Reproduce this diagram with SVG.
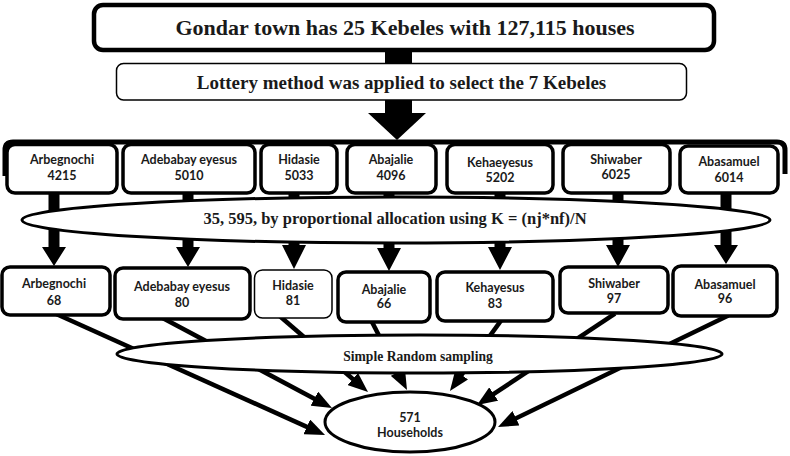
<svg xmlns="http://www.w3.org/2000/svg" width="790" height="456" viewBox="0 0 790 456">
<style>
.bx{fill:#fff;stroke:#000;stroke-width:3.5}
.thin{fill:#fff;stroke:#000;stroke-width:1.5}
.el{fill:#fff;stroke:#000;stroke-width:3}
.serif{font-family:"Liberation Serif","Times New Roman",serif;font-weight:bold;fill:#1a1a1a;text-anchor:middle}
.sans{font-family:Lato,"Liberation Sans",sans-serif;font-weight:bold;font-size:12.5px;fill:#1a1a1a;text-anchor:middle}
.ln{stroke:#000;stroke-width:4.5;fill:none;marker-end:url(#ah)}
.big{fill:#000}
</style>
<defs>
<marker id="ah" markerUnits="userSpaceOnUse" markerWidth="20" markerHeight="16" viewBox="0 0 20 16" refX="8" refY="8" orient="auto">
<path d="M0,0 L20,8 L0,16 z" fill="#000"/>
</marker>
</defs>
<g id="connectors">
<polygon class="big" points="385,50 412,50 412,113 426,113 397,140 368,113 385,113"/>
<polygon class="big" points="48.5,190 59.5,190 59.5,247 66,247 54,266 42,247 48.5,247"/>
<polygon class="big" points="182.5,190 193.5,190 193.5,247 200,247 188,267 176,247 182.5,247"/>
<polygon class="big" points="288.5,190 299.5,190 299.5,245 306,245 294,269 282,245 288.5,245"/>
<polygon class="big" points="383.5,190 394.5,190 394.5,248 401,248 389,271 377,248 383.5,248"/>
<polygon class="big" points="494.5,190 505.5,190 505.5,247 512,247 500,270 488,247 494.5,247"/>
<polygon class="big" points="612.5,190 623.5,190 623.5,245 630,245 618,267 606,245 612.5,245"/>
<polygon class="big" points="720.5,190 731.5,190 731.5,245 738,245 726,264 714,245 720.5,245"/>
<line class="ln" x1="54" y1="313" x2="314.1" y2="430.1"/>
<line class="ln" x1="161.2" y1="317.3" x2="321.4" y2="402.4"/>
<line class="ln" x1="277" y1="313.8" x2="358.9" y2="384.2"/>
<line class="ln" x1="369.3" y1="316.7" x2="401.5" y2="379.3"/>
<line class="ln" x1="503.5" y1="317.1" x2="457" y2="381.3"/>
<line class="ln" x1="615" y1="313.7" x2="487" y2="398.4"/>
<line class="ln" x1="728.4" y1="315.4" x2="508.8" y2="421.8"/>
</g>
<g id="title">
<rect x="94" y="5" width="620" height="45" rx="9" fill="#fff" stroke="#000" stroke-width="4.5"/>
<text class="serif" x="405" y="35" font-size="22">Gondar town has 25 Kebeles with 127,115 houses</text>
</g>
<g id="lottery">
<rect x="116.5" y="63.5" width="570" height="36.5" rx="7" class="thin"/>
<text class="serif" x="401.5" y="89" font-size="19">Lottery method was applied to select the 7 Kebeles</text>
</g>
<g id="bracket">
<path d="M5,176 V150 Q5,142 13,142 H777 Q785,142 785,150 V174" fill="none" stroke="#000" stroke-width="5"/>
</g>
<g id="k1-arbegnochi">
<rect x="7" y="144.5" width="110" height="48.5" rx="8" class="bx"/>
<text class="sans" x="62" y="164">Arbegnochi</text><text class="sans" x="62" y="180">4215</text>
</g>
<g id="k1-adebabay">
<rect x="123" y="144.5" width="132" height="48.5" rx="8" class="bx"/>
<text class="sans" x="189" y="164">Adebabay eyesus</text><text class="sans" x="189" y="180">5010</text>
</g>
<g id="k1-hidasie">
<rect x="261" y="144.5" width="76" height="48.5" rx="8" class="bx"/>
<text class="sans" x="299" y="164">Hidasie</text><text class="sans" x="299" y="180">5033</text>
</g>
<g id="k1-abajalie">
<rect x="347" y="144.5" width="89" height="48.5" rx="8" class="bx"/>
<text class="sans" x="391" y="164">Abajalie</text><text class="sans" x="391" y="180">4096</text>
</g>
<g id="k1-kehaeyesus">
<rect x="447" y="144.5" width="106" height="48.5" rx="8" class="bx"/>
<text class="sans" x="500" y="167">Kehaeyesus</text><text class="sans" x="500" y="182">5202</text>
</g>
<g id="k1-shiwaber">
<rect x="563" y="144.5" width="107" height="48.5" rx="8" class="bx"/>
<text class="sans" x="616" y="164">Shiwaber</text><text class="sans" x="616" y="179">6025</text>
</g>
<g id="k1-abasamuel">
<rect x="680" y="146" width="98" height="47" rx="8" class="bx"/>
<text class="sans" x="729" y="166">Abasamuel</text><text class="sans" x="729" y="182">6014</text>
</g>
<g id="allocation">
<ellipse cx="396" cy="220" rx="374" ry="23" class="el"/>
<text class="serif" x="395" y="224" font-size="16.5">35, 595, by proportional allocation using K = (nj*nf)/N</text>
</g>
<g id="k2-arbegnochi">
<rect x="2" y="267" width="108" height="48" rx="8" class="bx"/>
<text class="sans" x="54" y="288">Arbegnochi</text><text class="sans" x="54" y="305">68</text>
</g>
<g id="k2-adebabay">
<rect x="115" y="268" width="135" height="51" rx="8" class="bx"/>
<text class="sans" x="182" y="291">Adebabay eyesus</text><text class="sans" x="182" y="307">80</text>
</g>
<g id="k2-hidasie">
<rect x="254.5" y="270" width="77.5" height="48" rx="8" class="thin"/>
<text class="sans" x="293" y="290">Hidasie</text><text class="sans" x="293" y="305">81</text>
</g>
<g id="k2-abajalie">
<rect x="338" y="272" width="92" height="50" rx="8" class="bx"/>
<text class="sans" x="384" y="294">Abajalie</text><text class="sans" x="384" y="308">66</text>
</g>
<g id="k2-kehayesus">
<rect x="437" y="272" width="116" height="49" rx="8" class="bx"/>
<text class="sans" x="495" y="292">Kehayesus</text><text class="sans" x="495" y="308">83</text>
</g>
<g id="k2-shiwaber">
<rect x="560" y="267" width="108" height="46" rx="8" class="bx"/>
<text class="sans" x="614" y="288">Shiwaber</text><text class="sans" x="614" y="303">97</text>
</g>
<g id="k2-abasamuel">
<rect x="673" y="266" width="104" height="50" rx="8" class="bx"/>
<text class="sans" x="725" y="289">Abasamuel</text><text class="sans" x="725" y="303">96</text>
</g>
<g id="srs">
<ellipse cx="419.5" cy="354" rx="302.5" ry="19" class="el"/>
<text class="serif" x="418" y="361" font-size="13.6">Simple Random sampling</text>
</g>
<g id="households">
<ellipse cx="410" cy="422" rx="85" ry="30" class="el"/>
<text class="sans" x="410" y="422">571</text><text class="sans" x="410" y="437">Households</text>
</g>
</svg>
